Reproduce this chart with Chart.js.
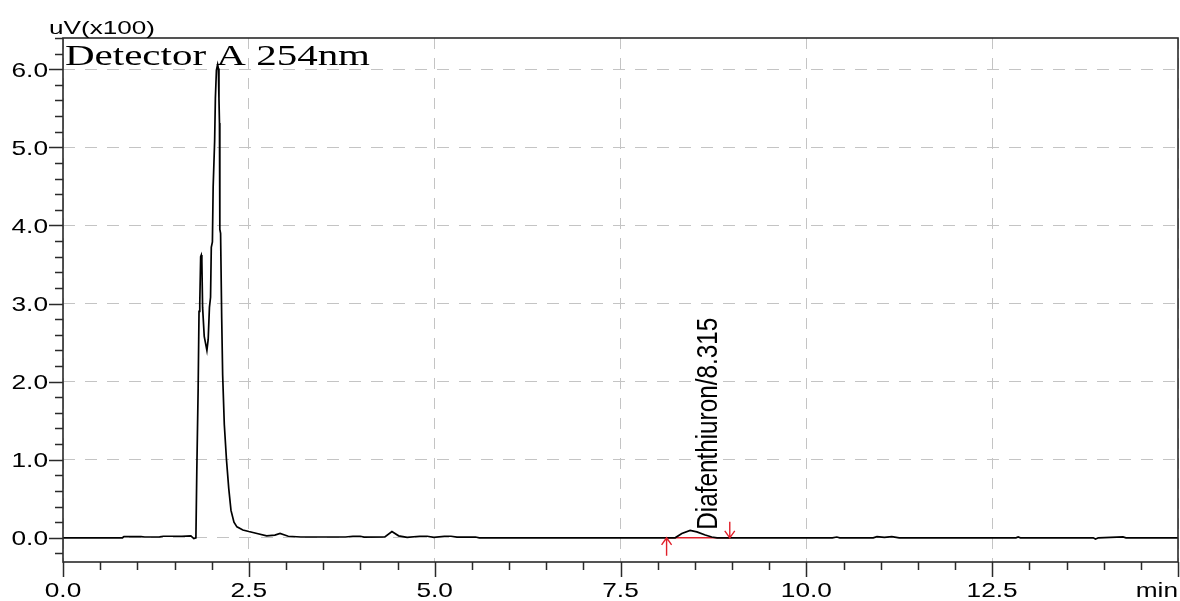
<!DOCTYPE html>
<html lang="en">
<head>
    <meta charset="UTF-8">
    <title>Detector A 254nm</title>
    <script src="https://cdn.jsdelivr.net/npm/chart.js"></script>
    <style>
        * { margin: 0; padding: 0; box-sizing: border-box; }
        body { background: #fff; }
        #wrap { width: 1180px; height: 601px; }
    </style>
</head>
<body>
<div id="wrap"><canvas id="chart" width="1180" height="601"></canvas></div>

<script>
// chromatogram trace (min, uV x100)
const timeMin = [0, 0.8, 0.82, 1.05, 1.1, 1.3, 1.35, 1.6, 1.72, 1.76, 1.788, 1.80, 1.818, 1.83, 1.84, 1.852, 1.86, 1.868, 1.878, 1.90,
    1.936, 1.953, 1.97, 1.985, 1.995, 2.01, 2.02, 2.04, 2.05, 2.064, 2.08, 2.09, 2.098, 2.105, 2.11, 2.12, 2.135, 2.148, 2.17, 2.20,
    2.23, 2.26, 2.30, 2.34, 2.42, 2.50, 2.61, 2.74, 2.85, 2.92, 3.03, 3.2, 3.8, 3.9, 4.0, 4.05, 4.33, 4.425, 4.515, 4.63,
    4.8, 4.9, 4.99, 5.13, 5.22, 5.3, 5.55, 5.6, 8.235, 8.325, 8.437, 8.527, 8.64, 8.727, 8.80, 10.35, 10.41, 10.45, 10.9, 10.95,
    11.05, 11.15, 11.25, 12.82, 12.85, 12.88, 13.86, 13.89, 13.93, 14.26, 14.3, 15];
const signal = [0, 0, 0.015, 0.015, 0.01, 0.012, 0.02, 0.02, 0.025, -0.01, 0, 0.85, 1.9, 2.9, 3.0, 3.6, 3.62, 3.54, 2.95, 2.58,
    2.40, 2.54, 2.95, 3.08, 3.72, 3.79, 4.49, 5.08, 5.63, 5.99, 6.06, 6.01, 5.63, 5.31, 3.95, 3.9, 2.81, 2.08, 1.45, 0.99,
    0.63, 0.35, 0.2, 0.14, 0.10, 0.08, 0.055, 0.025, 0.035, 0.055, 0.02, 0.01, 0.01, 0.02, 0.02, 0.008, 0.01, 0.08, 0.025, 0.005,
    0.02, 0.02, 0.005, 0.02, 0.02, 0.008, 0.01, 0, 0, 0.055, 0.095, 0.075, 0.035, 0.01, 0, 0, 0.01, 0, 0, 0.015,
    0.005, 0.015, 0, 0, 0.01, 0, 0, -0.015, 0, 0.012, 0, 0];

// integrated peak
const peakName = 'Diafenthiuron';
const peakRT = 8.315;
const peakStart = 8.12;
const peakEnd = 8.97;

// axes
const xTicks = [0, 2.5, 5, 7.5, 10, 12.5, 15];
const xTickLabels = ['0.0', '2.5', '5.0', '7.5', '10.0', '12.5', 'min'];
const yTicks = [0, 1, 2, 3, 4, 5, 6];
const yTickLabels = ['0.0', '1.0', '2.0', '3.0', '4.0', '5.0', '6.0'];
const xMinorStep = 0.5;
const yMinorStep = 0.2;
const yUnit = 'uV(x100)';
const detectorTitle = 'Detector A 254nm';

const SANS = "'Liberation Sans', Arial, sans-serif";
const SERIF = "'Liberation Serif', 'Times New Roman', serif";

function drawText(ctx, str, x, y, font, sx, align) {
    ctx.save();
    ctx.font = font;
    ctx.translate(x, y);
    ctx.scale(sx, 1);
    ctx.textAlign = align;
    ctx.textBaseline = 'alphabetic';
    ctx.fillText(str, 0, 0);
    ctx.restore();
}

// frame, tick marks, labels and peak marks
const frame = {
    id: 'frame',
    afterDraw(chart) {
        const ctx = chart.ctx;
        const a = chart.chartArea;
        const xs = chart.scales.x;
        const ys = chart.scales.y;

        ctx.save();
        ctx.strokeStyle = '#2a2a2a';
        ctx.lineWidth = 1.6;
        ctx.strokeRect(a.left, a.top, a.right - a.left, a.bottom - a.top);

        // tick marks
        ctx.lineWidth = 1.5;
        ctx.beginPath();
        for (let v = 0; v <= xs.max + 1e-6; v += xMinorStep) {
            const px = Math.round(xs.getPixelForValue(v)) + 0.5;
            const major = Math.abs(v / 2.5 - Math.round(v / 2.5)) < 1e-6;
            ctx.moveTo(px, a.bottom);
            ctx.lineTo(px, a.bottom + (major ? 15 : 8));
        }
        for (let k = Math.ceil(ys.min / yMinorStep); k * yMinorStep <= ys.max; k++) {
            const v = k * yMinorStep;
            const py = Math.round(ys.getPixelForValue(v)) + 0.5;
            const major = k % 5 === 0;
            ctx.moveTo(a.left, py);
            ctx.lineTo(a.left - (major ? 14 : 8), py);
        }
        ctx.stroke();

        // tick labels
        ctx.fillStyle = '#000';
        yTicks.forEach((v, i) => {
            drawText(ctx, yTickLabels[i], a.left - 15, ys.getPixelForValue(v) + 7.5, '21px ' + SANS, 1.25, 'right');
        });
        xTicks.forEach((v, i) => {
            const last = i === xTicks.length - 1;
            drawText(ctx, xTickLabels[i], last ? a.right : xs.getPixelForValue(v), 597, '21px ' + SANS, 1.25, last ? 'right' : 'center');
        });

        // unit and detector title
        ctx.font = '19px ' + SANS;
        drawText(ctx, yUnit, 49, 34, '19px ' + SANS, 106 / ctx.measureText(yUnit).width, 'left');
        ctx.font = '30px ' + SERIF;
        drawText(ctx, detectorTitle, a.left + 2, 65, '30px ' + SERIF, 305 / ctx.measureText(detectorTitle).width, 'left');

        // peak label, rotated
        const label = peakName + '/' + peakRT.toFixed(3);
        const y0 = ys.getPixelForValue(0);
        ctx.font = "22px 'Liberation Sans Narrow', " + SANS;
        const sl = 212 / ctx.measureText(label).width;
        ctx.save();
        ctx.translate(xs.getPixelForValue(peakRT) + 36, y0 - 8);
        ctx.rotate(-Math.PI / 2);
        ctx.scale(sl, 1.3);
        ctx.textAlign = 'left';
        ctx.fillStyle = '#000';
        ctx.fillText(label, 0, 0);
        ctx.restore();

        // start / end arrows
        ctx.strokeStyle = '#e0202a';
        ctx.lineWidth = 1.4;
        const xa = xs.getPixelForValue(peakStart);
        const xb = xs.getPixelForValue(peakEnd);
        ctx.beginPath();
        ctx.moveTo(xa, y0 + 18); ctx.lineTo(xa, y0);
        ctx.moveTo(xa - 5, y0 + 7); ctx.lineTo(xa, y0); ctx.lineTo(xa + 5, y0 + 7);
        ctx.moveTo(xb, y0 - 16); ctx.lineTo(xb, y0);
        ctx.moveTo(xb - 5, y0 - 7); ctx.lineTo(xb, y0); ctx.lineTo(xb + 5, y0 - 7);
        ctx.stroke();
        ctx.restore();
    }
};

const points = timeMin.map((t, i) => ({ x: t, y: signal[i] }));
const baseline = [{ x: peakStart, y: 0 }, { x: peakEnd, y: 0 }];

new Chart(document.getElementById('chart').getContext('2d'), {
    type: 'scatter',
    data: {
        datasets: [
            {
                data: baseline,
                showLine: true,
                borderColor: '#e0202a',
                borderWidth: 1.4,
                pointRadius: 0,
                order: 2
            },
            {
                data: points,
                showLine: true,
                borderColor: '#000',
                borderWidth: 1.7,
                pointRadius: 0,
                tension: 0,
                order: 1
            }
        ]
    },
    options: {
        responsive: false,
        animation: false,
        events: [],
        layout: { padding: { top: 38, right: 2, left: 0, bottom: 0 } },
        plugins: {
            legend: { display: false },
            tooltip: { enabled: false }
        },
        scales: {
            x: {
                type: 'linear',
                min: 0,
                max: 15,
                afterBuildTicks: s => { s.ticks = xTicks.map(v => ({ value: v })); },
                afterFit: s => { s.height = 39; },
                ticks: { display: false },
                grid: { color: '#c4c4c4', lineWidth: 1, drawTicks: false },
                border: { display: false, dash: [11, 9] }
            },
            y: {
                min: -0.31,
                max: 6.4,
                afterBuildTicks: s => { s.ticks = yTicks.map(v => ({ value: v })); },
                afterFit: s => { s.width = 63; },
                ticks: { display: false },
                grid: { color: '#c4c4c4', lineWidth: 1, drawTicks: false },
                border: { display: false, dash: [12, 10] }
            }
        }
    },
    plugins: [frame]
});
</script>
</body>
</html>
